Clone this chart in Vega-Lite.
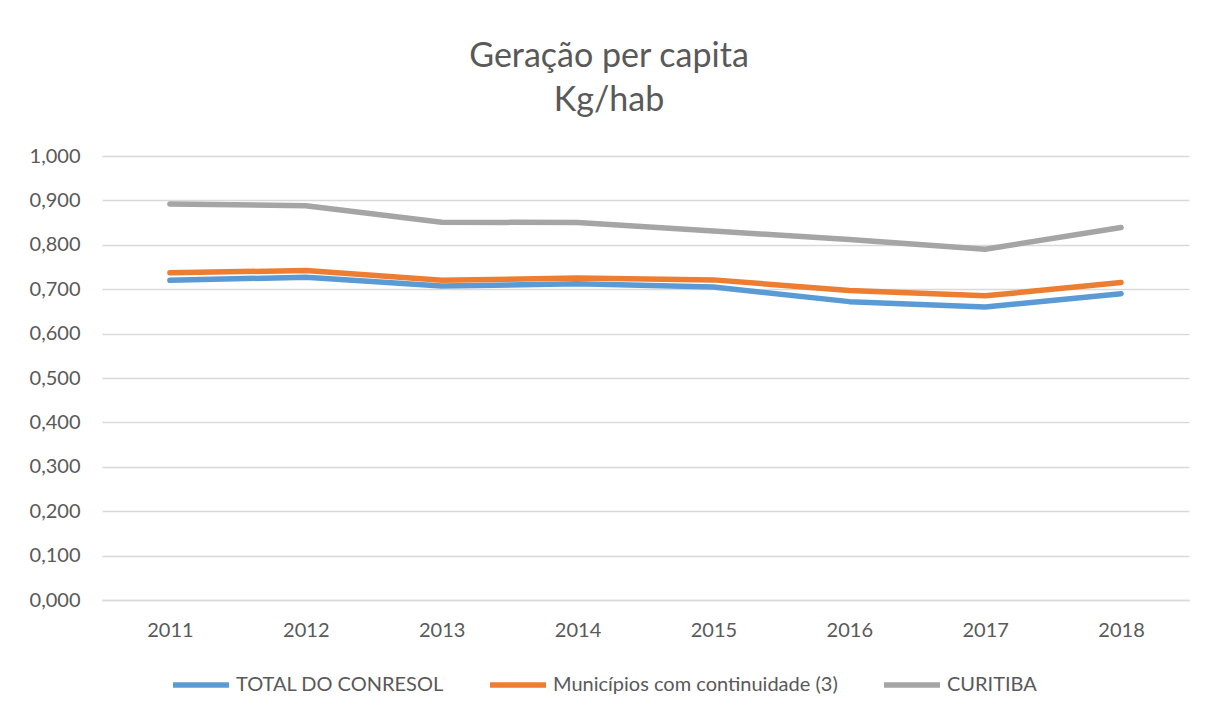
{
  "$schema": "https://vega.github.io/schema/vega-lite/v6.json",
  "width": 1087,
  "height": 444,
  "autosize": "none",
  "padding": {"left": 102, "top": 156, "right": 19, "bottom": 113},
  "background": "white",
  "config": {
    "font": "Lato",
    "locale": {"number": {"decimal": ",", "thousands": ".", "grouping": [3], "currency": ["R$", ""]}},
    "view": {"stroke": null},
    "axis": {"labelFont": "Lato", "labelColor": "#595959", "labelFontSize": 20}
  },
  "title": {
    "text": ["Geração per capita", "Kg/hab"],
    "fontSize": 34,
    "fontWeight": "normal",
    "color": "#595959",
    "font": "Lato",
    "anchor": "middle",
    "frame": "bounds",
    "lineHeight": 44,
    "offset": 28
  },
  "data": {
    "values": [
      {"ano": "2011", "serie": "TOTAL DO CONRESOL", "valor": 0.720},
      {"ano": "2012", "serie": "TOTAL DO CONRESOL", "valor": 0.727},
      {"ano": "2013", "serie": "TOTAL DO CONRESOL", "valor": 0.707},
      {"ano": "2014", "serie": "TOTAL DO CONRESOL", "valor": 0.712},
      {"ano": "2015", "serie": "TOTAL DO CONRESOL", "valor": 0.705},
      {"ano": "2016", "serie": "TOTAL DO CONRESOL", "valor": 0.672},
      {"ano": "2017", "serie": "TOTAL DO CONRESOL", "valor": 0.660},
      {"ano": "2018", "serie": "TOTAL DO CONRESOL", "valor": 0.690},
      {"ano": "2011", "serie": "Municípios com continuidade (3)", "valor": 0.737},
      {"ano": "2012", "serie": "Municípios com continuidade (3)", "valor": 0.742},
      {"ano": "2013", "serie": "Municípios com continuidade (3)", "valor": 0.720},
      {"ano": "2014", "serie": "Municípios com continuidade (3)", "valor": 0.725},
      {"ano": "2015", "serie": "Municípios com continuidade (3)", "valor": 0.721},
      {"ano": "2016", "serie": "Municípios com continuidade (3)", "valor": 0.697},
      {"ano": "2017", "serie": "Municípios com continuidade (3)", "valor": 0.685},
      {"ano": "2018", "serie": "Municípios com continuidade (3)", "valor": 0.715},
      {"ano": "2011", "serie": "CURITIBA", "valor": 0.892},
      {"ano": "2012", "serie": "CURITIBA", "valor": 0.888},
      {"ano": "2013", "serie": "CURITIBA", "valor": 0.851},
      {"ano": "2014", "serie": "CURITIBA", "valor": 0.850},
      {"ano": "2015", "serie": "CURITIBA", "valor": 0.831},
      {"ano": "2016", "serie": "CURITIBA", "valor": 0.812},
      {"ano": "2017", "serie": "CURITIBA", "valor": 0.790},
      {"ano": "2018", "serie": "CURITIBA", "valor": 0.839}
    ]
  },
  "mark": {"type": "line", "strokeCap": "round", "strokeJoin": "round"},
  "encoding": {
    "x": {
      "field": "ano",
      "type": "ordinal",
      "scale": {"type": "point", "padding": 0.5},
      "axis": {"title": null, "labelAngle": 0, "ticks": false, "domain": true, "domainColor": "#D9D9D9", "domainWidth": 1.5, "labelPadding": 20, "grid": false}
    },
    "y": {
      "field": "valor",
      "type": "quantitative",
      "scale": {"domain": [0, 1], "nice": false},
      "axis": {"title": null, "format": ".3f", "values": [0, 0.1, 0.2, 0.3, 0.4, 0.5, 0.6, 0.7, 0.8, 0.9, 1.0], "labelOverlap": false, "ticks": false, "domain": false, "gridColor": "#D9D9D9", "gridWidth": 1.5, "labelPadding": 22}
    },
    "color": {
      "field": "serie",
      "type": "nominal",
      "sort": ["TOTAL DO CONRESOL", "Municípios com continuidade (3)", "CURITIBA"],
      "scale": {"domain": ["TOTAL DO CONRESOL", "Municípios com continuidade (3)", "CURITIBA"], "range": ["#5B9BD5", "#ED7D31", "#A5A5A5"]},
      "legend": {
        "title": null,
        "orient": "none",
        "direction": "horizontal",
        "legendX": 68,
        "legendY": 498,
        "symbolType": "stroke",
        "symbolSize": 3136,
        "symbolStrokeWidth": 5,
        "labelFontSize": 20,
        "labelColor": "#595959",
        "labelFont": "Lato",
        "labelOffset": 4,
        "columnPadding": 35,
        "labelLimit": 400
      }
    },
    "strokeWidth": {
      "field": "serie",
      "type": "nominal",
      "scale": {"domain": ["TOTAL DO CONRESOL", "Municípios com continuidade (3)", "CURITIBA"], "range": [5.5, 5.5, 3.5]},
      "legend": null
    }
  }
}
